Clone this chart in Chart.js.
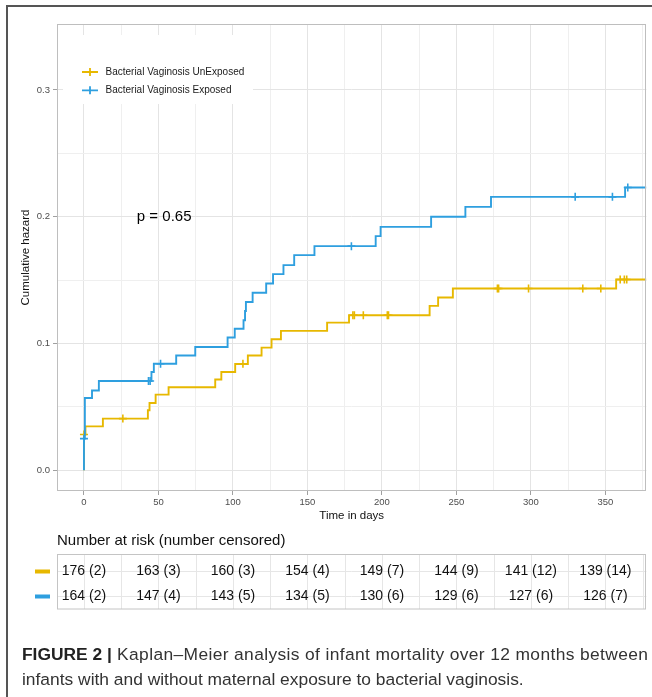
<!DOCTYPE html>
<html><head><meta charset="utf-8">
<script src="https://cdn.jsdelivr.net/npm/chart.js@4"></script>
<style>
html,body{margin:0;padding:0;background:#fff;}
#wrap{position:relative;width:652px;height:697px;overflow:hidden;background:#fff;}
#c{position:absolute;left:0;top:0;}
#frameL{position:absolute;left:6px;top:5px;width:2px;height:692px;background:#555;}
#frameT{position:absolute;left:6px;top:5px;width:646px;height:2px;background:#555;}
#cap{position:absolute;left:22px;top:642px;font-family:"Liberation Sans",Arial,sans-serif;font-size:17.4px;line-height:25px;color:#333;}
#cap .l1{display:block;white-space:nowrap;letter-spacing:0.37px;}
#cap .l2{display:block;white-space:nowrap;}
#cap b{color:#222;letter-spacing:0;}
</style></head>
<body><div id="wrap"><canvas id="c" width="652" height="697"></canvas>
<div id="frameL"></div><div id="frameT"></div>
<div id="cap"><span class="l1"><b>FIGURE 2 |</b> Kaplan–Meier analysis of infant mortality over 12 months between</span><span class="l2">infants with and without maternal exposure to bacterial vaginosis.</span></div>
</div>
<script>
// ---- data ----
const seriesNames = ["Bacterial Vaginosis UnExposed", "Bacterial Vaginosis Exposed"];
const seriesColors = ["#E7B800", "#2E9FDF"];

const unexpTimes  = [0, 0, 1, 12.7, 42.9, 44.0, 48.1, 56.8, 88.1, 92.2, 101.5, 110.0, 119.2, 125.9, 132.2, 163.2, 177.9, 232.0, 237.7, 247.6, 357.2, 377.5];
const unexpHazard = [0, 0.0282, 0.0347, 0.0408, 0.0474, 0.0531, 0.0597, 0.0655, 0.0716, 0.0776, 0.0838, 0.0906, 0.0968, 0.1034, 0.1100, 0.1165, 0.1223, 0.1297, 0.1363, 0.1434, 0.1505, 0.1505];
const unexpCensTimes  = [0, 26.1, 106.7, 180.5, 181.5, 187.5, 203.6, 204.4, 277.5, 278.3, 298.4, 334.8, 346.9, 359.9, 362.7, 364.3];
const unexpCensHazard = [0.0282, 0.0408, 0.0840, 0.1223, 0.1223, 0.1223, 0.1223, 0.1223, 0.1434, 0.1434, 0.1434, 0.1434, 0.1434, 0.1505, 0.1505, 0.1505];

const expTimes  = [0, 0, 0.6, 5.4, 10.0, 45.3, 46.9, 61.9, 74.7, 96.4, 101.2, 107.1, 108.1, 108.7, 113.2, 122.3, 126.9, 133.9, 141.1, 154.7, 195.8, 199.1, 233.0, 256.0, 273.2, 363.2, 377.5];
const expHazard = [0, 0.0250, 0.0570, 0.0630, 0.0705, 0.0775, 0.0840, 0.0906, 0.0973, 0.1047, 0.1117, 0.1184, 0.1257, 0.1328, 0.1400, 0.1473, 0.1547, 0.1618, 0.1697, 0.1768, 0.1847, 0.1920, 0.2000, 0.2078, 0.2157, 0.2231, 0.2231];
const expCensTimes  = [0, 43.3, 44.4, 51.4, 179.5, 329.7, 354.7, 365.0];
const expCensHazard = [0.0250, 0.0705, 0.0705, 0.0840, 0.1768, 0.2157, 0.2157, 0.2231];

const xMajorTicks = [0, 50, 100, 150, 200, 250, 300, 350];
const xMinorTicks = [25, 75, 125, 175, 225, 275, 325, 375];
const yMajorTicks = [0, 0.1, 0.2, 0.3];
const yMinorTicks = [0.05, 0.15, 0.25];

const riskTimes = [0, 50, 100, 150, 200, 250, 300, 350];
const unexpAtRisk   = [176, 163, 160, 154, 149, 144, 141, 139];
const unexpCensored = [2, 3, 3, 4, 7, 9, 12, 14];
const expAtRisk     = [164, 147, 143, 134, 130, 129, 127, 126];
const expCensored   = [2, 4, 5, 5, 6, 6, 6, 7];

const pText = "p = 0.65";
const pAt = {x: 35.5, y: 0.2};

// ---- build ----
const pts = (xs, ys) => xs.map((x, i) => ({x, y: ys[i]}));
const FONT = "'Liberation Sans', Arial, sans-serif";
const isMajorX = v => xMajorTicks.includes(v);
const isMajorY = v => yMajorTicks.some(m => Math.abs(m - v) < 1e-9);

const overlay = {
  id: 'overlay',
  beforeDatasetsDraw(chart) {
    const ctx = chart.ctx;
    ctx.save();
    ctx.fillStyle = '#fff';
    ctx.fillRect(63, 35, 190, 69);
    ctx.restore();
  },
  afterDatasetsDraw(chart) {
    const ctx = chart.ctx, a = chart.chartArea;
    const xs = chart.scales.x, ys = chart.scales.y;
    ctx.save();
    ctx.strokeStyle = '#BEBEBE'; ctx.lineWidth = 1;
    ctx.strokeRect(Math.round(a.left) + 0.5, Math.round(a.top) + 0.5, Math.round(a.right - a.left) - 1, Math.round(a.bottom - a.top) - 1);
    seriesNames.forEach((name, i) => {
      const y = 72 + i * 18.3;
      ctx.strokeStyle = seriesColors[i]; ctx.lineWidth = 1.8;
      ctx.beginPath(); ctx.moveTo(82, y); ctx.lineTo(98, y); ctx.moveTo(90, y - 4); ctx.lineTo(90, y + 4); ctx.stroke();
      ctx.fillStyle = '#1a1a1a'; ctx.font = '10px ' + FONT; ctx.textBaseline = 'middle'; ctx.textAlign = 'left';
      ctx.fillText(name, 105.5, y);
    });
    ctx.fillStyle = '#000'; ctx.font = '15px ' + FONT; ctx.textBaseline = 'middle'; ctx.textAlign = 'left';
    ctx.fillText(pText, xs.getPixelForValue(pAt.x), ys.getPixelForValue(pAt.y));
    ctx.restore();
  },
  afterDraw(chart) {
    const ctx = chart.ctx, a = chart.chartArea, xs = chart.scales.x;
    const top = 554.5, bottom = 609, rows = [571, 596];
    ctx.save();
    ctx.fillStyle = '#111'; ctx.font = '15px ' + FONT; ctx.textBaseline = 'middle'; ctx.textAlign = 'left';
    ctx.fillText('Number at risk (number censored)', a.left, 541);
    ctx.lineWidth = 1; ctx.strokeStyle = '#E6E6E6';
    [...xMajorTicks, ...xMinorTicks].forEach(t => {
      const px = Math.round(xs.getPixelForValue(t)) + 0.5;
      if (px > a.left && px < a.right) { ctx.beginPath(); ctx.moveTo(px, top); ctx.lineTo(px, bottom); ctx.stroke(); }
    });
    rows.forEach(r => { ctx.beginPath(); ctx.moveTo(a.left, r + 0.5); ctx.lineTo(a.right, r + 0.5); ctx.stroke(); });
    ctx.strokeStyle = '#C4C4C4';
    ctx.strokeRect(Math.round(a.left) + 0.5, top, Math.round(a.right - a.left) - 1, bottom - top);
    ctx.fillStyle = seriesColors[0]; ctx.fillRect(35, rows[0] - 1.5, 15, 4);
    ctx.fillStyle = seriesColors[1]; ctx.fillRect(35, rows[1] - 1.5, 15, 4);
    ctx.fillStyle = '#111'; ctx.font = '14px ' + FONT; ctx.textAlign = 'center'; ctx.textBaseline = 'middle';
    riskTimes.forEach((t, i) => {
      const px = xs.getPixelForValue(t);
      ctx.fillText(unexpAtRisk[i] + ' (' + unexpCensored[i] + ')', px, rows[0] + 0.5);
      ctx.fillText(expAtRisk[i] + ' (' + expCensored[i] + ')', px, rows[1] + 0.5);
    });
    ctx.restore();
  }
};

new Chart(document.getElementById('c'), {
  type: 'line',
  data: {
    datasets: [
      {label: seriesNames[1], data: pts(expTimes, expHazard), borderColor: seriesColors[1], borderWidth: 1.9, stepped: 'before', pointRadius: 0, fill: false, order: 0},
      {label: seriesNames[1] + ' censored', data: pts(expCensTimes, expCensHazard), showLine: false, pointStyle: 'cross', pointRadius: 4, pointBorderWidth: 1.6, pointBorderColor: seriesColors[1], borderColor: seriesColors[1], order: 0},
      {label: seriesNames[0], data: pts(unexpTimes, unexpHazard), borderColor: seriesColors[0], borderWidth: 1.9, stepped: 'before', pointRadius: 0, fill: false, order: 1},
      {label: seriesNames[0] + ' censored', data: pts(unexpCensTimes, unexpCensHazard), showLine: false, pointStyle: 'cross', pointRadius: 4, pointBorderWidth: 1.6, pointBorderColor: seriesColors[0], borderColor: seriesColors[0], order: 1}
    ]
  },
  options: {
    responsive: false, animation: false, devicePixelRatio: 1, events: [],
    layout: {padding: {left: 0, right: 4, top: 24, bottom: 174}},
    plugins: {legend: {display: false}, tooltip: {enabled: false}},
    scales: {
      x: {
        type: 'linear', min: -18.1, max: 377.5,
        afterBuildTicks: s => { s.ticks = [...xMajorTicks, ...xMinorTicks].sort((p, q) => p - q).map(v => ({value: v})); },
        afterFit: s => { s.height = 32; },
        border: {display: false},
        grid: {
          color: c => (c.tick && isMajorX(c.tick.value)) ? '#E4E4E4' : '#EFEFEF',
          tickColor: c => (c.tick && isMajorX(c.tick.value)) ? '#A0A0A0' : 'rgba(0,0,0,0)',
          tickLength: 4, lineWidth: 1
        },
        ticks: {autoSkip: false, maxRotation: 0, padding: 2, color: '#4D4D4D', font: {family: FONT, size: 9.5},
          callback: v => isMajorX(v) ? String(v) : ''},
        title: {display: true, text: 'Time in days', color: '#111', font: {family: FONT, size: 11.5}, padding: {top: 0, bottom: 0}}
      },
      y: {
        type: 'linear', min: -0.0163, max: 0.352,
        afterBuildTicks: s => { s.ticks = [...yMajorTicks, ...yMinorTicks].sort((p, q) => p - q).map(v => ({value: v})); },
        afterFit: s => { s.width = 57; },
        border: {display: false},
        grid: {
          color: c => (c.tick && isMajorY(c.tick.value)) ? '#E4E4E4' : '#EFEFEF',
          tickColor: c => (c.tick && isMajorY(c.tick.value)) ? '#A0A0A0' : 'rgba(0,0,0,0)',
          tickLength: 4, lineWidth: 1
        },
        ticks: {autoSkip: false, padding: 3, color: '#4D4D4D', font: {family: FONT, size: 9.5},
          callback: v => isMajorY(v) ? v.toFixed(1) : ''},
        title: {display: true, text: 'Cumulative hazard', color: '#111', font: {family: FONT, size: 11.5}, padding: {top: 18.5, bottom: 0}}
      }
    }
  },
  plugins: [overlay]
});
</script>
</body></html>
